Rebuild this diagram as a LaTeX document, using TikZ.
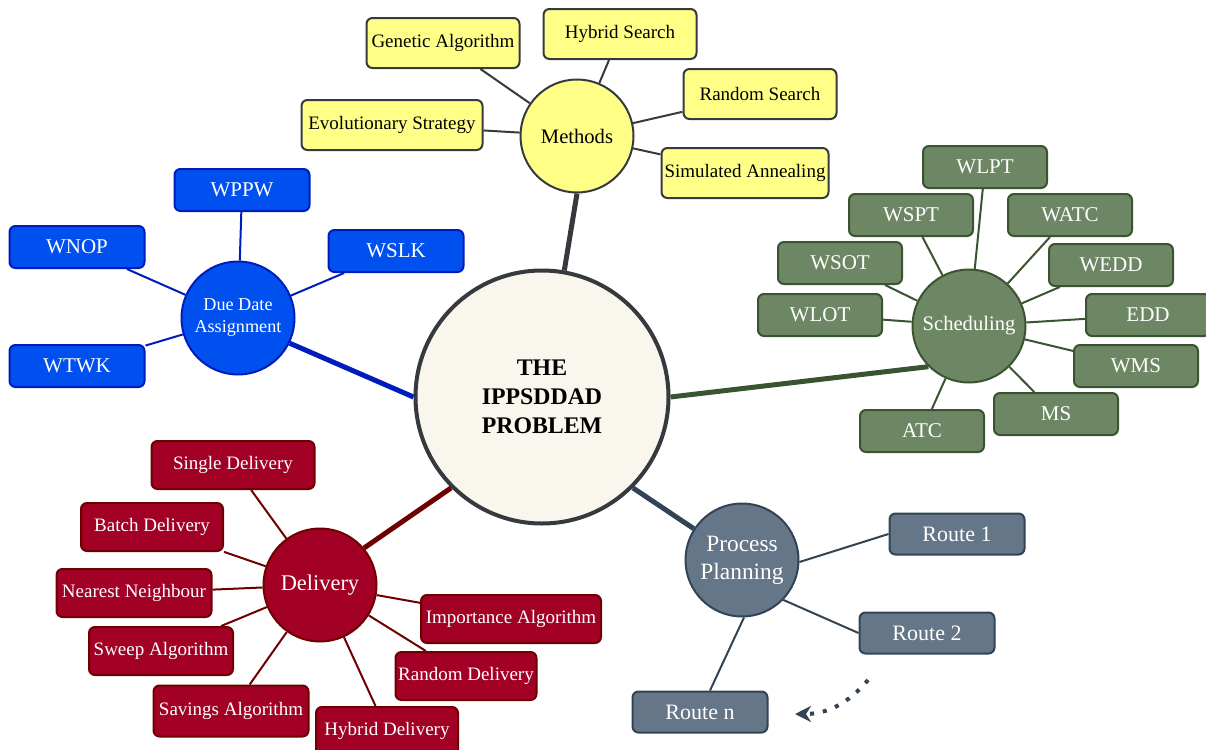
\documentclass[tikz,border=0pt]{standalone}
\usepackage{fontspec}
\setmainfont{Liberation Serif}
\usetikzlibrary{arrows.meta}
\definecolor{mmcore}{HTML}{F9F7ED}
\definecolor{mmink}{HTML}{36393D}
\definecolor{mmyel}{HTML}{FFFF88}
\definecolor{mmblu}{HTML}{0050EF}
\definecolor{mmbluln}{HTML}{001DBC}
\definecolor{mmgrn}{HTML}{6D8764}
\definecolor{mmgrnln}{HTML}{3A5431}
\definecolor{mmred}{HTML}{A20025}
\definecolor{mmredln}{HTML}{6F0000}
\definecolor{mmsla}{HTML}{647687}
\definecolor{mmslaln}{HTML}{314354}
\tikzset{
  core/.style={circle,draw=mmink,line width=2pt,fill=mmcore,minimum size=126.5pt,
              inner sep=0pt,align=center,font=\fontsize{11.9}{14.5}\selectfont\bfseries},
  hub/.style={circle,line width=1pt,minimum size=56.5pt,inner sep=0pt,align=center,text=white},
  leaf/.style={rectangle,rounded corners=3pt,line width=1pt,inner sep=0pt,text=white},
  yleaf/.style={leaf,fill=mmyel,draw=mmink,text=black,minimum width=76.5pt,minimum height=25pt,
              font=\fontsize{9.5}{11}\selectfont},
  bleaf/.style={leaf,fill=mmblu,draw=mmbluln,minimum width=67.5pt,minimum height=21pt,
              font=\fontsize{10.5}{12}\selectfont},
  gleaf/.style={leaf,fill=mmgrn,draw=mmgrnln,minimum width=62pt,minimum height=21pt,
              font=\fontsize{10.5}{12}\selectfont},
  rleaf/.style={leaf,fill=mmred,draw=mmredln,minimum height=24pt,
              font=\fontsize{9.5}{11}\selectfont},
  sleaf/.style={leaf,fill=mmsla,draw=mmslaln,minimum width=67.5pt,minimum height=20.5pt,
              font=\fontsize{11}{13}\selectfont},
  twig/.style={line width=1pt},
  trunk/.style={line width=2.5pt},
}

\begin{document}
\begin{tikzpicture}[x=0.5pt,y=-0.5pt]
  \useasboundingbox (0,0) rectangle (1206,750);

  \node[core] (core) at (542,397) {THE\\IPPSDDAD\\PROBLEM};

  % methods
  \node[hub,fill=mmyel,draw=mmink,text=black,font=\fontsize{10.3}{12}\selectfont] (meth) at (577,136) {Methods};
  \node[yleaf] (ga) at (443,43)  {Genetic Algorithm};
  \node[yleaf] (hs) at (620,34)  {Hybrid Search};
  \node[yleaf] (rs) at (760,94)  {Random Search};
  \node[yleaf,minimum width=90.5pt] (es) at (392,125) {Evolutionary Strategy};
  \node[yleaf,minimum width=83.5pt] (sa) at (745,173) {Simulated Annealing};
  \foreach \n in {ga,hs,rs,es,sa} \draw[twig,mmink] (meth) -- (\n);

  % due date assignment
  \node[hub,fill=mmblu,draw=mmbluln,font=\fontsize{9.1}{11}\selectfont] (dda) at (238,318) {Due Date\\Assignment};
  \node[bleaf] (wppw) at (242,190) {WPPW};
  \node[bleaf] (wnop) at (77,247)  {WNOP};
  \node[bleaf] (wslk) at (396,251) {WSLK};
  \node[bleaf] (wtwk) at (77,366)  {WTWK};
  \foreach \n in {wppw,wnop,wslk,wtwk} \draw[twig,mmbluln] (dda) -- (\n);

  % scheduling
  \node[hub,fill=mmgrn,draw=mmgrnln,font=\fontsize{10.3}{12}\selectfont] (sched) at (969,326) {Scheduling};
  \node[gleaf] (wlpt) at (985,167)  {WLPT};
  \node[gleaf] (wspt) at (911,215)  {WSPT};
  \node[gleaf] (watc) at (1070,215) {WATC};
  \node[gleaf] (wsot) at (840,263)  {WSOT};
  \node[gleaf] (wedd) at (1111,265) {WEDD};
  \node[gleaf] (wlot) at (820,315)  {WLOT};
  \node[gleaf] (edd)  at (1148,315) {EDD};
  \node[gleaf] (wms)  at (1136,366) {WMS};
  \node[gleaf] (ms)   at (1056,414) {MS};
  \node[gleaf] (atc)  at (922,431)  {ATC};
  \foreach \n in {wlpt,wspt,watc,wsot,wedd,wlot,edd,wms,ms,atc} \draw[twig,mmgrnln] (sched) -- (\n);

  % delivery
  \node[hub,fill=mmred,draw=mmredln,font=\fontsize{11.2}{13}\selectfont] (deliv) at (320,585) {Delivery};
  \node[rleaf,minimum width=81.5pt] (sd)  at (233,465) {Single Delivery};
  \node[rleaf,minimum width=71pt]   (bd)  at (152,527) {Batch Delivery};
  \node[rleaf,minimum width=77.5pt] (nn)  at (134,593) {Nearest Neighbour};
  \node[rleaf,minimum width=72pt]   (swa) at (161,651) {Sweep Algorithm};
  \node[rleaf,minimum width=77.5pt,minimum height=25.5pt] (sva) at (231,711) {Savings Algorithm};
  \node[rleaf,minimum width=71pt]   (hd)  at (387,731) {Hybrid Delivery};
  \node[rleaf,minimum width=90pt]   (ia)  at (511,619) {Importance Algorithm};
  \node[rleaf,minimum width=70.5pt] (rd)  at (466,676) {Random Delivery};
  \foreach \n in {sd,bd,nn,swa,sva,hd,ia,rd} \draw[twig,mmredln] (deliv) -- (\n);

  % process planning
  \node[hub,fill=mmsla,draw=mmslaln,font=\fontsize{11.7}{14}\selectfont] (plan) at (742,560) {Process\\Planning};
  \node[sleaf] (r1) at (957,534) {Route 1};
  \node[sleaf] (r2) at (927,633) {Route 2};
  \node[sleaf] (rn) at (700,712) {Route n};
  \draw[twig,mmslaln] (plan.-2)  -- (r1.west);
  \draw[twig,mmslaln] (plan.-44) -- (r2.west);
  \draw[twig,mmslaln] (plan.-88) -- (rn);

  % more routes
  \coordinate (dots0) at (868,680);
  \coordinate (dots1) at (795,714);
  \draw[mmslaln,line width=2pt,dash pattern=on 2pt off 4.5pt,
        -{Stealth[length=8pt,width=8pt,inset=2.5pt]}] (dots0) to[bend left=25] (dots1);

  % branches
  \draw[trunk,mmink]   (core.80)  -- (meth.270);
  \draw[trunk,mmbluln] (core.180) -- (dda.-26);
  \draw[trunk,mmgrnln] (core.0)   -- (sched.225);
  \draw[trunk,mmredln] (core.225) -- (deliv.40);
  \draw[trunk,mmslaln] (core.-45) -- (plan.147);
\end{tikzpicture}
\end{document}
